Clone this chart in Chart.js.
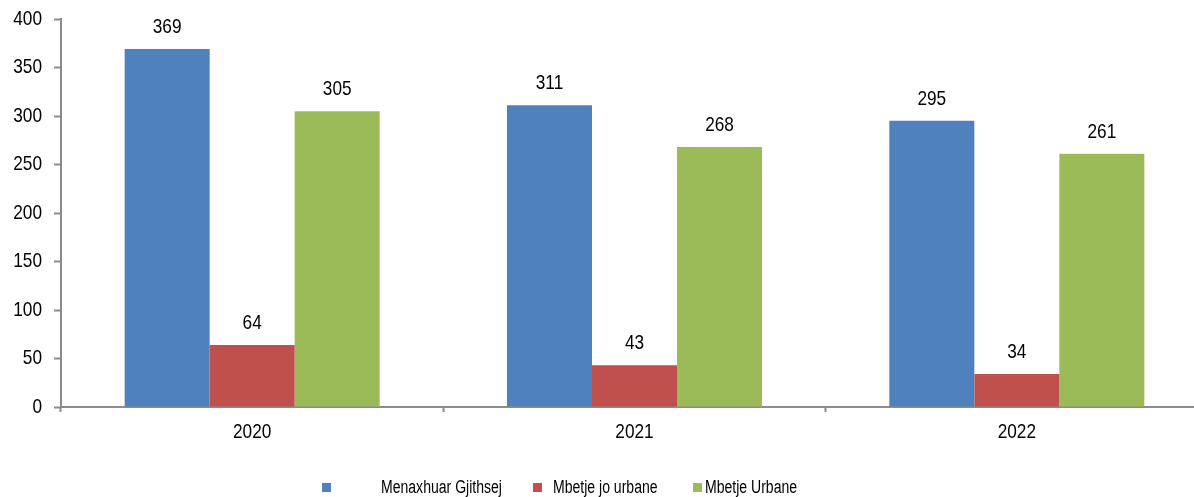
<!DOCTYPE html>
<html>
<head>
<meta charset="utf-8">
<script src="https://cdn.jsdelivr.net/npm/chart.js@4"></script>
<style>
  html, body { margin: 0; padding: 0; background: #fff; overflow: hidden; }
  #wrap { position: relative; width: 1194px; height: 497px; overflow: hidden; }
  #legend { position: absolute; left: 0; top: 476px; width: 1194px; height: 22px;
    font-family: 'Liberation Sans', Arial, sans-serif; font-size: 18px; color: #000; }
  #legend span { position: absolute; white-space: nowrap; line-height: 22px;
    transform: scaleX(0.78); transform-origin: left center; }
  #legend i { position: absolute; width: 9px; height: 9px; top: 7px; }
</style>
</head>
<body>
<div id="wrap">
  <canvas id="chart" width="1210" height="497"></canvas>
  <div id="legend"></div>
</div>
<script>
const years = ['2020', '2021', '2022'];
const seriesNames = ['Menaxhuar Gjithsej', 'Mbetje jo urbane', 'Mbetje Urbane'];
const totalManaged = [369, 311, 295];
const nonUrbanWaste = [64, 43, 34];
const urbanWaste = [305, 268, 261];
const yTicks = [0, 50, 100, 150, 200, 250, 300, 350, 400];

const colors = ['#4F81BD', '#C0504D', '#9BBB59'];
const axisGray = '#8c8c8c';
const fontFamily = "'Liberation Sans', Arial, sans-serif";
const squeeze = 0.82; // the original uses a narrow face, so text is condensed

// legend laid out like the original, with its uneven gaps
const legendSpots = [
  { box: 322, text: 381 },
  { box: 533, text: 553 },
  { box: 693, text: 705 },
];
const legendDiv = document.getElementById('legend');
seriesNames.forEach((name, i) => {
  const box = document.createElement('i');
  box.style.left = legendSpots[i].box + 'px';
  box.style.background = colors[i];
  const label = document.createElement('span');
  label.style.left = legendSpots[i].text + 'px';
  label.textContent = name;
  legendDiv.appendChild(box);
  legendDiv.appendChild(label);
});

function narrowText(ctx, text, x, y, align) {
  ctx.save();
  ctx.translate(x, y);
  ctx.scale(squeeze, 1);
  ctx.textAlign = align;
  ctx.fillText(text, 0, 0);
  ctx.restore();
}

// tick labels and bar values, drawn condensed
const narrowLabels = {
  id: 'narrowLabels',
  afterDatasetsDraw(chart) {
    const { ctx, scales } = chart;
    ctx.save();
    ctx.font = '21px ' + fontFamily;
    ctx.fillStyle = '#000';

    ctx.textBaseline = 'alphabetic';
    chart.data.datasets.forEach((ds, i) => {
      chart.getDatasetMeta(i).data.forEach((bar, j) => {
        narrowText(ctx, String(ds.data[j]), bar.x, bar.y - 16, 'center');
      });
    });

    ctx.textBaseline = 'middle';
    yTicks.forEach(v => {
      narrowText(ctx, String(v), scales.y.right - 19, scales.y.getPixelForValue(v), 'right');
    });

    ctx.textBaseline = 'top';
    years.forEach((yr, i) => {
      narrowText(ctx, yr, scales.x.getPixelForValue(i), scales.x.top + 15, 'center');
    });
    ctx.restore();
  }
};

new Chart(document.getElementById('chart'), {
  type: 'bar',
  data: {
    labels: years,
    datasets: [
      { label: seriesNames[0], data: totalManaged, backgroundColor: colors[0] },
      { label: seriesNames[1], data: nonUrbanWaste, backgroundColor: colors[1] },
      { label: seriesNames[2], data: urbanWaste, backgroundColor: colors[2] },
    ],
  },
  options: {
    responsive: false,
    animation: false,
    layout: { padding: { top: 19, right: 2, bottom: 50, left: 0 } },
    datasets: { bar: { categoryPercentage: 0.667, barPercentage: 1.0 } },
    plugins: { legend: { display: false }, tooltip: { enabled: false } },
    scales: {
      x: {
        grid: { offset: true, drawOnChartArea: false, tickLength: 5, tickColor: axisGray, tickWidth: 2 },
        border: { color: axisGray, width: 2 },
        ticks: { display: false },
        afterFit(scale) { scale.height = 40; },
      },
      y: {
        min: 0,
        max: 400,
        afterBuildTicks(scale) { scale.ticks = yTicks.map(v => ({ value: v })); },
        grid: { drawOnChartArea: false, tickLength: 7, tickColor: axisGray, tickWidth: 2 },
        border: { color: axisGray, width: 2 },
        ticks: { display: false },
        afterFit(scale) { scale.width = 61; },
      },
    },
  },
  plugins: [narrowLabels],
});
</script>
</body>
</html>
